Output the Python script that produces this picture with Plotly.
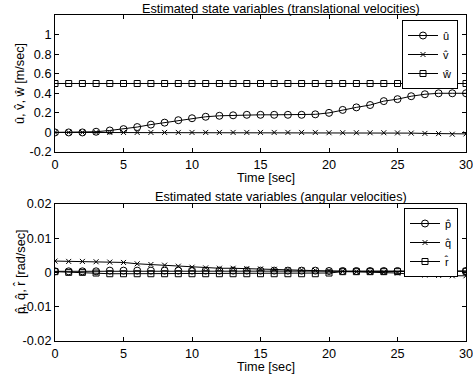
import plotly.graph_objects as go

# ---------------- data ----------------
time_s = list(range(0, 31))

u_hat = [0, 0, 0, 0.007, 0.02, 0.034, 0.055, 0.08, 0.1, 0.125, 0.145, 0.16, 0.17, 0.175,
         0.18, 0.18, 0.18, 0.18, 0.18, 0.185, 0.2, 0.23, 0.256, 0.28, 0.32, 0.34, 0.37,
         0.39, 0.4, 0.4, 0.4]
v_hat = [0, 0, 0, 0, 0, 0, 0, 0, 0, 0, 0, 0, 0, 0, 0, 0, 0, 0, 0, 0, -0.003, -0.003,
         -0.003, -0.003, -0.003, -0.005, -0.007, -0.01, -0.012, -0.018, -0.015]
w_hat = [0.5] * 31

p_hat = [0.0003, 0.0003, 0.0003, 0.0003, 0.0005, 0.0005, 0.0005, 0.0005, 0.0005, 0.0005,
         0.0005, 0.0005, 0.0005, 0.0005, 0.0005, 0.0005, 0.0005, 0.0005, 0.0005, 0.0005,
         0.0004, 0.0004, 0.0004, 0.0004, 0.0004, 0.0004, 0.0004, 0.0004, 0.0004, 0.0004,
         0.0004]
q_hat = [0.0033, 0.0032, 0.0032, 0.0031, 0.003, 0.0029, 0.0025, 0.0023, 0.0021, 0.0018,
         0.0015, 0.0013, 0.0012, 0.0012, 0.0011, 0.001, 0.0009, 0.0008, 0.0007, 0.0006,
         0.0005, 0.0003, 0.0002, 0.0001, 0.0, -0.0002, -0.0006, -0.0008, -0.0009, -0.001,
         -0.001]
r_hat = [0.0002, 0.0, 0.0, -0.0002, -0.0004, -0.0004, -0.0004, -0.0004, -0.0004, -0.0004,
         -0.0004, -0.0004, -0.0004, -0.0004, -0.0004, -0.0004, -0.0004, -0.0004, -0.0004,
         -0.0004, -0.0002, 0.0002, 0.0002, 0.0002, 0.0002, 0.0002, 0.0003, 0.0003, 0.0003,
         0.0003, 0.0003]

x_ticks = [0, 5, 10, 15, 20, 25, 30]
y1_ticks = [-0.2, 0, 0.2, 0.4, 0.6, 0.8, 1.0]
y1_ticktext = ["-0.2", "0", "0.2", "0.4", "0.6", "0.8", "1"]
y2_ticks = [-0.02, -0.01, 0, 0.01, 0.02]
y2_ticktext = ["-0.02", "-0.01", "0", "0.01", "0.02"]

title_top = "Estimated state variables (translational velocities)"
title_bot = "Estimated state variables (angular velocities)"
xlabel = "Time [sec]"
ylabel_top = "u\u0302, v\u0302, w\u0302 [m/sec]"
ylabel_bot = "p\u0302, q\u0302, r\u0302 [rad/sec]"
names_top = ["u\u0302", "v\u0302", "w\u0302"]
names_bot = ["p\u0302", "q\u0302", "r\u0302"]

# ---------------- figure ----------------
W, H = 473, 379
FONT = "Liberation Sans, Arial, sans-serif"
FS = 12.7

fig = go.Figure()

def add(x, y, name, symbol, size, xa, ya, legend):
    fig.add_trace(go.Scatter(
        x=x, y=y, name=name, mode="lines+markers",
        line=dict(color="black", width=1),
        marker=dict(symbol=symbol, size=size, color="black",
                    line=dict(color="black", width=1)),
        xaxis=xa, yaxis=ya, legend=legend))

add(time_s, u_hat, names_top[0], "circle-open", 7, "x", "y", "legend")
add(time_s, v_hat, names_top[1], "x-thin-open", 5, "x", "y", "legend")
add(time_s, w_hat, names_top[2], "square-open", 6, "x", "y", "legend")
add(time_s, p_hat, names_bot[0], "circle-open", 7, "x2", "y2", "legend2")
add(time_s, q_hat, names_bot[1], "x-thin-open", 5, "x2", "y2", "legend2")
add(time_s, r_hat, names_bot[2], "square-open", 6, "x2", "y2", "legend2")

# pixel -> paper fraction
px_x = lambda p: p / W
px_y = lambda p: 1 - p / H

L, R = 55, 466
top_t, top_b = 15, 152
bot_t, bot_b = 204, 340.7

axis_common = dict(showline=True, linecolor="black", linewidth=1, mirror="ticks",
                   ticks="inside", ticklen=4, tickcolor="black", showgrid=False,
                   zeroline=False, automargin=False, ticklabeloverflow="allow",
                   tickfont=dict(family=FONT, size=FS, color="black"))
xax = dict(axis_common, ticklabelstandoff=1)

fig.update_layout(
    width=W, height=H,
    margin=dict(l=0, r=0, t=0, b=0, pad=0, autoexpand=False),
    paper_bgcolor="white", plot_bgcolor="white",
    font=dict(family=FONT, size=FS, color="black"),
    xaxis=dict(domain=[px_x(L), px_x(R)], range=[0, 30], tickvals=x_ticks,
               anchor="y", **xax),
    yaxis=dict(domain=[px_y(top_b), px_y(top_t)], range=[-0.2, 1.2],
               tickvals=y1_ticks, ticktext=y1_ticktext, anchor="x", **axis_common),
    xaxis2=dict(domain=[px_x(L), px_x(R)], range=[0, 30], tickvals=x_ticks,
                anchor="y2", **xax),
    yaxis2=dict(domain=[px_y(bot_b), px_y(bot_t)], range=[-0.02, 0.02],
                tickvals=y2_ticks, ticktext=y2_ticktext, anchor="x2", **axis_common),
    legend=dict(x=px_x(458), y=px_y(20), xanchor="right", yanchor="top",
                bgcolor="white", bordercolor="black", borderwidth=1,
                font=dict(family=FONT, size=11), tracegroupgap=0, itemwidth=30),
    legend2=dict(x=px_x(458), y=px_y(208), xanchor="right", yanchor="top",
                 bgcolor="white", bordercolor="black", borderwidth=1,
                 font=dict(family=FONT, size=11), tracegroupgap=0, itemwidth=30),
    showlegend=True,
)

def ann(text, x, y, angle=0):
    fig.add_annotation(text=text, x=px_x(x), y=px_y(y), xref="paper", yref="paper",
                       showarrow=False, textangle=angle, xanchor="center", yanchor="middle",
                       font=dict(family=FONT, size=FS, color="black"))

ann(title_top, 281, 9)
ann(title_bot, 281, 197)
ann(xlabel, 266, 178.5)
ann(xlabel, 266, 366.5)
ann(ylabel_top, 20, 84, -90)
ann(ylabel_bot, 20, 272, -90)

fig.write_html("out.html",
               config={"displayModeBar": False},
               post_script="document.body.style.margin='0px';")
